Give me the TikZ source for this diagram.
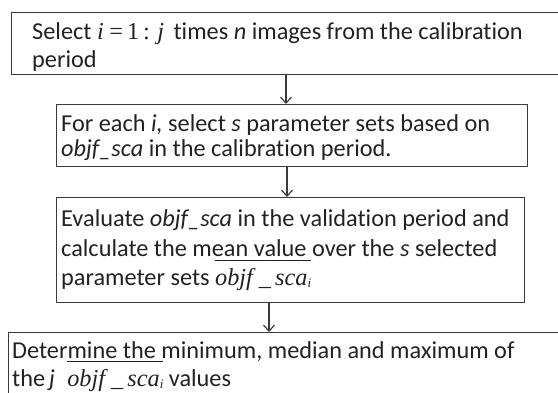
\documentclass[tikz,border=0pt]{standalone}
\usepackage{fontspec}
\setmainfont{Carlito}[Ligatures=NoCommon]
\newfontfamily\tnr{Liberation Serif}
\usetikzlibrary{arrows.meta}
\definecolor{edge}{HTML}{3A3A3A}
\definecolor{ink}{HTML}{222222}
\newcommand{\objbar}{$\overline{\mbox{\rule{0pt}{0.95em}\tnr\itshape objf \_\,sca\raisebox{-0.25ex}{\fontsize{13}{13}\selectfont i}}}$}
\tikzset{
  stepbox/.style={draw=edge, line width=1.3pt, rectangle, inner sep=0pt, anchor=north west},
  txt/.style={anchor=base west, inner sep=0pt, text=ink, font=\fontsize{24.3}{24.3}\selectfont},
  arr/.style={draw=edge, line width=1.2pt, -{Straight Barb[length=6pt,width=11pt,line width=1.2pt]}}
}
\begin{document}
\begin{tikzpicture}[x=1pt,y=-1pt]
\useasboundingbox (0,0) rectangle (558,392);
% boxes
\node[stepbox, minimum width=570pt, minimum height=62pt] (b1) at (11,12) {};
\node[stepbox, minimum width=471pt, minimum height=62pt] (b2) at (56,104) {};
\node[stepbox, minimum width=468pt, minimum height=105pt] (b3) at (56,197) {};
\node[stepbox, minimum width=570pt, minimum height=80pt] (b4) at (8,332) {};
% texts
\node[txt] (t1a) at (32,39) {Select {\tnr\itshape i} {\tnr =\,1\,:} {\tnr\itshape j}\, times \textit{n} images from the calibration};
\node[txt] (t1b) at (32,67) {period};
\node[txt] (t2a) at (61,131) {For each \textit{i,} select \textit{s} parameter sets based on};
\node[txt] (t2b) at (61,156) {\textit{objf\_sca} in the calibration period.};
\node[txt] (t3a) at (61,226) {Evaluate \textit{objf\_sca} in the validation period and};
\node[txt] (t3b) at (61,256) {calculate the mean value over the \textit{s} selected};
\node[txt] (t3c) at (61,285) {parameter sets \objbar};
\node[txt] (t4a) at (12,358) {Determine the minimum, median and maximum of};
\node[txt] (t4b) at (12,386) {the\,\textit{j}\; \objbar\ values};
% arrows
\coordinate (x1) at (286,0);
\coordinate (x2) at (287,0);
\coordinate (x3) at (269,0);
\draw[arr] (b1.south -| x1) -- (b2.north -| x1);
\draw[arr] (b2.south -| x2) -- (b3.north -| x2);
\draw[arr] (b3.south -| x3) -- (b4.north -| x3);
\end{tikzpicture}
\end{document}
